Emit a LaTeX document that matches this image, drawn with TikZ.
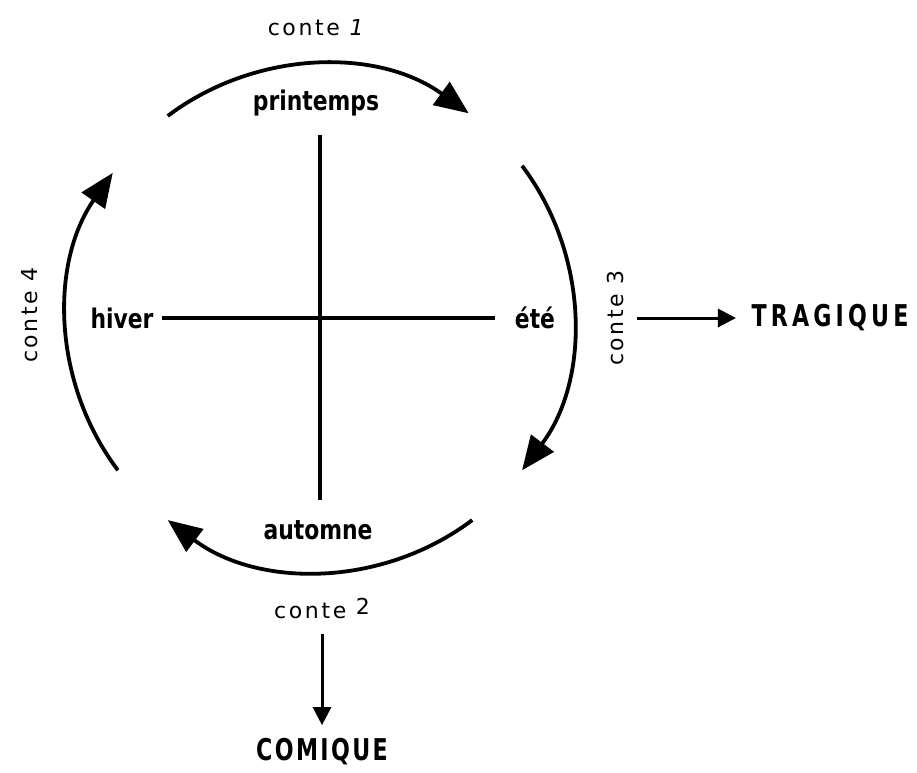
\documentclass[tikz,border=0pt]{standalone}
\usepackage{fontspec}
\setmainfont{DejaVu Sans Condensed}
\newfontfamily\saisonfont[FakeStretch=0.9]{DejaVu Sans Condensed}
\newfontfamily\contefont[LetterSpace=12]{DejaVu Sans}
\newfontfamily\genrefont[LetterSpace=14,FakeStretch=0.82]{DejaVu Sans Condensed}
\usetikzlibrary{arrows.meta}

\tikzset{
  saison/.style={font=\saisonfont\bfseries\fontsize{27}{27}\selectfont},
  conte/.style={font=\contefont\fontsize{22}{22}\selectfont},
  genre/.style={font=\genrefont\bfseries\fontsize{30}{30}\selectfont},
  arcfleche/.style={line width=3.8pt,-{Triangle[length=34pt,width=28pt]}},
  fleche/.style={line width=3pt,-{Triangle[length=18pt,width=18pt]}},
  croix/.style={line width=3.2pt}
}

\begin{document}
\begin{tikzpicture}[x=1pt,y=1pt]
    \def\r{253}
    \useasboundingbox (-320,-454) rectangle (597,318);

    % la croix
    \draw[croix] (0,183) -- (0,-182);
    \draw[croix] (-158,0) -- (175,0);

    % les saisons
    \node[saison] (printemps) at (-4,215) {printemps};
    \node[saison] (hiver) at (-198,0) {hiver};
    \node[saison] (ete) at (215,0) {été};
    \node[saison] (automne) at (-2,-212) {automne};

    % le cycle des contes
    \draw[arcfleche] (127:\r) arc[start angle=127,end angle=54,radius=\r];
    \draw[arcfleche] (37:\r) arc[start angle=37,end angle=-37,radius=\r];
    \draw[arcfleche] (-53:\r) arc[start angle=-53,end angle=-127,radius=\r];
    \draw[arcfleche] (217:\r) arc[start angle=217,end angle=145,radius=\r];

    \node[conte] (conte1) at (-3,290) {conte \textit{1}};
    \node[conte] (conte2) at (2,-290) {conte \raisebox{4pt}{2}};
    \node[conte,rotate=90] (conte3) at (295,0) {conte 3};
    \node[conte,rotate=90] (conte4) at (-290,3) {conte 4};

    % les genres
    \node[genre] (tragique) at (510,0) {TRAGIQUE};
    \node[genre] (comique) at (2,-434) {\addfontfeature{LetterSpace=8}COMIQUE};

    \draw[fleche,shorten <=10pt,shorten >=12pt] (conte3) -- (tragique);
    \draw[fleche,shorten <=12pt,shorten >=10pt] (conte2) -- (comique);
\end{tikzpicture}
\end{document}
